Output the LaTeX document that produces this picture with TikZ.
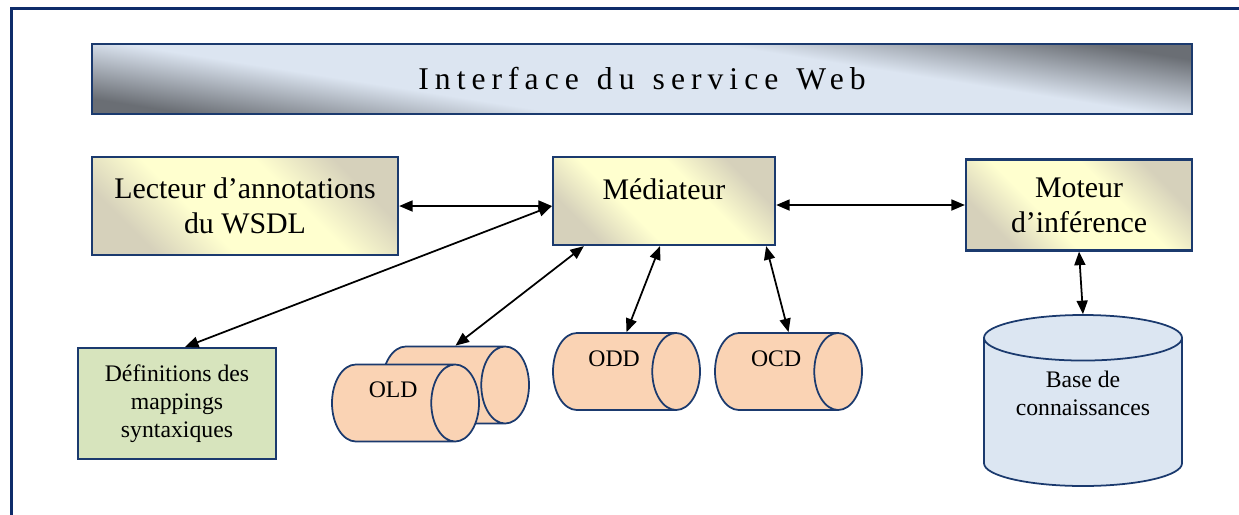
\documentclass[tikz,border=0pt]{standalone}
\usepackage{fontspec}
\setmainfont{Liberation Serif}
\newfontfamily\swspaced{Liberation Serif}[LetterSpace=19,WordSpace=1.3]
\usetikzlibrary{arrows.meta,positioning,calc,shapes.geometric}
\definecolor{swnavy}{HTML}{1B3A6E}
\definecolor{swframe}{HTML}{0E2C6A}
\definecolor{swlight}{HTML}{FFFFCF}
\definecolor{swtan}{HTML}{D6D1BB}
\definecolor{swsky}{HTML}{DCE5F1}
\definecolor{swslate}{HTML}{6A6E74}
\definecolor{swsage}{HTML}{D7E4BD}
\definecolor{swpeach}{HTML}{FAD3B4}
\definecolor{swpale}{HTML}{DCE6F2}
% fades used by the boxes and the banner
\pgfdeclareverticalshading{swparchment}{100bp}{color(0bp)=(swtan); color(26bp)=(swtan); color(40bp)=(swlight); color(60bp)=(swlight); color(74bp)=(swtan); color(100bp)=(swtan)}
\pgfdeclareverticalshading{swsteel}{100bp}{color(0bp)=(swslate); color(25bp)=(swslate); color(39bp)=(swsky); color(61bp)=(swsky); color(75bp)=(swslate); color(100bp)=(swslate)}
\tikzset{
  % the web-service banner across the top
  banner/.style={
    draw=swnavy, line width=1.3pt, shading=swsteel, shading angle=-9,
    minimum width=22cm, minimum height=1.4cm,
    font={\swspaced\fontsize{18}{20}\selectfont},
  },
  % the three processing components
  component/.style={
    draw=swnavy, line width=1.3pt, shading=swparchment, shading angle=-45,
    align=center, inner sep=2pt,
    font=\fontsize{17}{20}\selectfont,
  },
  % mapping definitions, flat green
  mapping/.style={
    draw=swnavy, line width=1.1pt, fill=swsage, align=center,
    minimum width=3.96cm, minimum height=2.22cm,
    font=\fontsize{13.5}{16}\selectfont,
  },
  % ontology stores lying on their side
  store/.style={
    cylinder, draw=swnavy, line width=1pt, fill=swpeach,
    aspect=0.62, inner sep=0pt, anchor=shape center,
    minimum height=2.94cm, minimum width=1.54cm,
    text height=0.66cm, text depth=0.88cm,
    font=\fontsize{13.5}{16}\selectfont,
  },
  % the knowledge base standing upright
  kbase/.style={
    cylinder, shape border rotate=90, draw=swnavy, line width=1pt,
    fill=swpale, aspect=0.23, inner sep=0pt, anchor=shape center,
    text width=3.96cm, minimum width=3.96cm, minimum height=3.42cm,
  },
  kbtag/.style={align=center, font=\fontsize{13.5}{16}\selectfont, inner sep=0pt},
  % every link goes both ways
  duplex/.style={
    draw=black, line width=1pt,
    {Triangle[length=2.7mm,width=2.2mm]}-{Triangle[length=2.7mm,width=2.2mm]},
  },
}
\begin{document}
\begin{tikzpicture}[x=1cm,y=1cm]
  \useasboundingbox (0,0) rectangle (24.78,-10.28);

  % ---- page frame, only its top and left edges show ------------------------
  \draw[draw=swframe,line width=0.6mm] (0.22,-10.5) -- (0.22,-0.18) -- (25.0,-0.18);

  % ---- interface ------------------------------------------------------------
  \node[banner] (iface) at (12.84,-1.58) {Interface du service Web};

  % ---- components -----------------------------------------------------------
  \node[component,minimum width=6.12cm,minimum height=1.96cm] (lecteur) at (4.90,-4.12)
    {Lecteur d’annotations\\du WSDL};
  \node[component,minimum width=4.44cm,minimum height=1.76cm,
        text height=0.42cm,text depth=0.5cm] (mediateur) at (13.28,-4.02) {Médiateur};
  \node[component,minimum width=4.52cm,minimum height=1.82cm] (moteur) at (21.58,-4.10)
    {Moteur\\d’inférence};
  \node[mapping] (defs) at (3.54,-8.07) {Définitions des\\mappings\\syntaxiques};

  % ---- ontologies -----------------------------------------------------------
  \node[store] (oldback) at (9.11,-7.70) {};
  \node[store] (old) at (8.11,-8.06) {OLD};
  \node[store] (odd) at (12.53,-7.43) {ODD};
  \node[store] (ocd) at (15.77,-7.43) {OCD};

  \node[kbase] (base) at (21.66,-8.01) {};
  \node[kbtag] (basetag) at ($(base.shape center)+(0,0.15)$) {Base de\\connaissances};

  % ---- links ----------------------------------------------------------------
  \coordinate (medin) at ([yshift=-1mm]mediateur.west);
  \coordinate (medout) at ([yshift=-0.8mm]mediateur.east);
  \draw[duplex] (lecteur.east) -- (medin);
  \draw[duplex] ([xshift=1.6mm]defs.north) -- (medin);
  \draw[duplex] (oldback.shape center |- oldback.north) -- ([xshift=6.4mm]mediateur.south west);
  \draw[duplex] (odd.shape center |- odd.north) -- ([xshift=-0.8mm]mediateur.south);
  \draw[duplex] (ocd.shape center |- ocd.north) -- ([xshift=-2mm]mediateur.south east);
  \draw[duplex] (medout) -- (medout -| moteur.west);
  \draw[duplex] (moteur.south) -- (base.north);

\end{tikzpicture}
\end{document}
